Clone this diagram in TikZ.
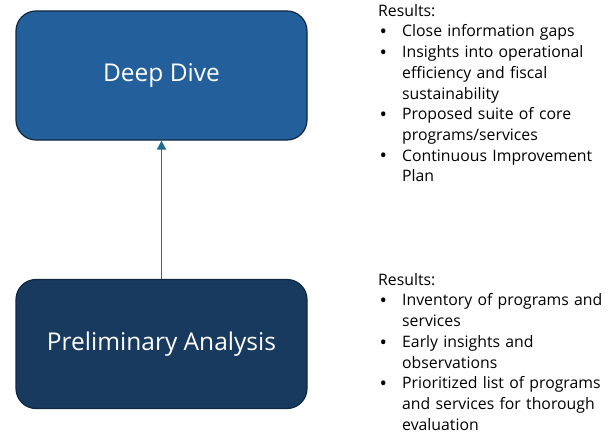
\documentclass[tikz,border=0pt]{standalone}
\usepackage{fontspec}
\setmainfont{Open Sans}
\usetikzlibrary{arrows.meta}
\definecolor{diveblue}{HTML}{235F9A}
\definecolor{prelimblue}{HTML}{183A5F}
\definecolor{edgeblue}{HTML}{0E2841}
\definecolor{arrowteal}{HTML}{1E6C93}
\newcommand{\resitem}[1]{\par\hangindent=24pt\hangafter=1\makebox[24pt][l]{\hspace{1.5pt}\raisebox{-1.8pt}{\scalebox{1.25}{\textbullet}}}#1}

\begin{document}
\begin{tikzpicture}[
  x=1pt, y=-1pt,
  stage/.style={
    draw=edgeblue, line width=1.2pt, rounded corners=20pt,
    minimum width=291pt, minimum height=129pt,
    text=white, font=\fontsize{24.5}{28}\selectfont
  },
  results/.style={
    anchor=north west, inner sep=0pt, text width=240pt, align=left,
    font=\fontsize{15.8}{20.7}\selectfont
  }
]
  \useasboundingbox (0,0) rectangle (608,436);
  \node[stage, fill=diveblue] (dive) at (161.5,75.5){Deep Dive};
  \node[stage, fill=prelimblue] (prelim) at (161.5,344){Preliminary Analysis};
  \draw[arrowteal, line width=1.8pt, -{Triangle[width=9pt,length=9pt]}] (prelim)--(dive);
  \node[results] (diveres) at (378,4){Results:
    \resitem{Close information gaps}
    \resitem{Insights into operational\newline efficiency and fiscal\newline sustainability}
    \resitem{Proposed suite of core\newline programs/services}
    \resitem{Continuous Improvement\newline Plan}\par};
  \node[results] (prelimres) at (378,273){Results:
    \resitem{Inventory of programs and\newline services}
    \resitem{Early insights and\newline observations}
    \resitem{Prioritized list of programs\newline and services for thorough\newline evaluation}\par};
\end{tikzpicture}
\end{document}
